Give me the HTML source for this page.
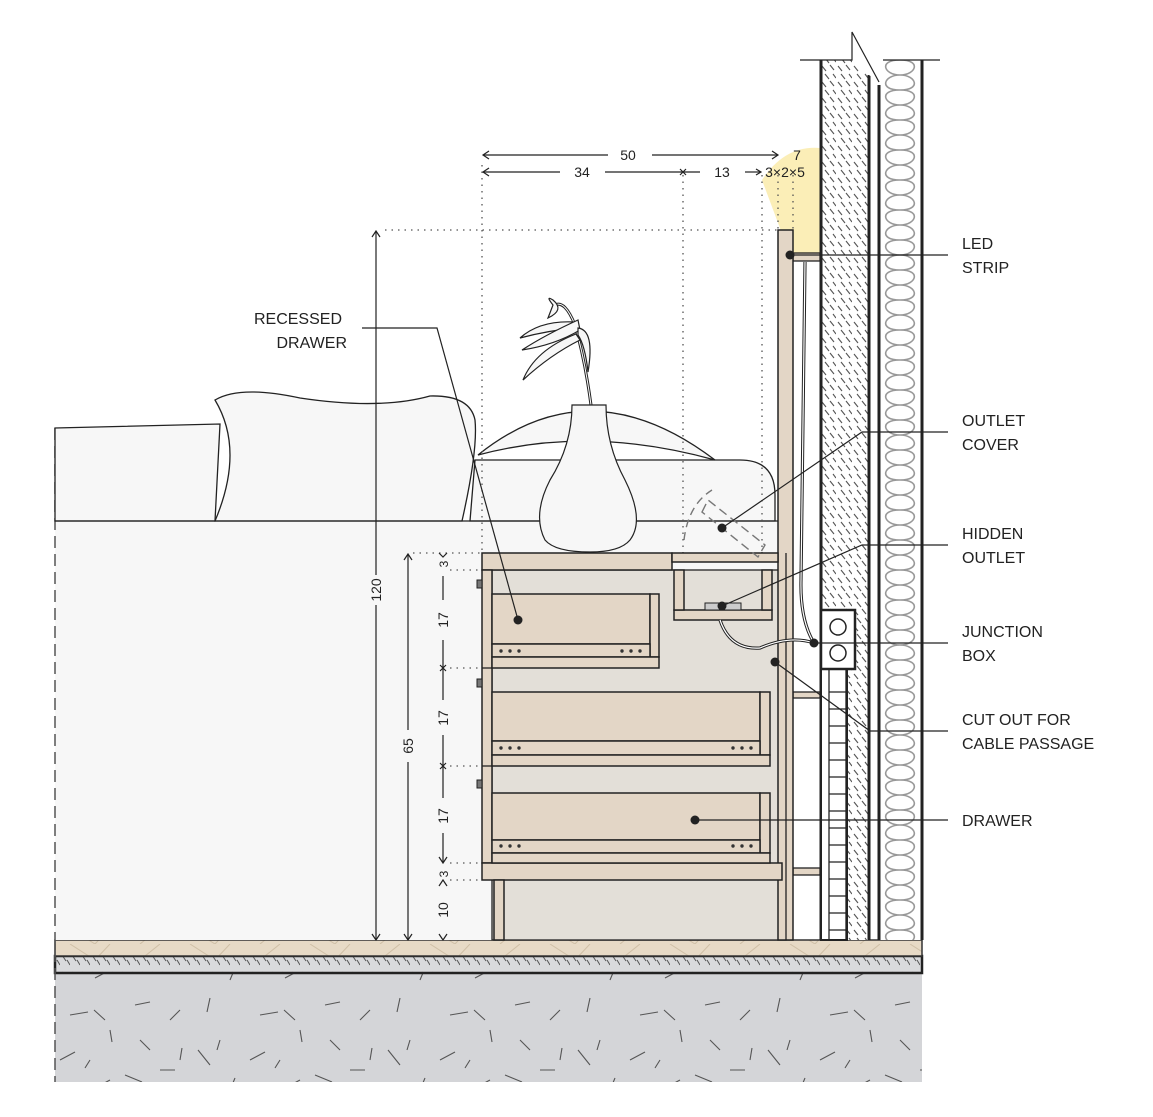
<!DOCTYPE html>
<html><head><meta charset="utf-8"><style>
html,body{margin:0;padding:0;background:#fff}
svg{display:block}
text{font-family:"Liberation Sans",sans-serif;fill:#222}
</style></head><body>
<svg width="1153" height="1117" viewBox="0 0 1153 1117" xmlns="http://www.w3.org/2000/svg">
<defs>
<pattern id="hatch" x="820" y="0" width="16" height="16" patternUnits="userSpaceOnUse">
<rect width="16" height="16" fill="#fff"/>
<path d="M2 2 L6 7 M10 1 L14 6 M5 10 L9 15 M13 10 L16 14" stroke="#555" stroke-width="1.1"/>
</pattern>
<pattern id="hatch2" width="10" height="17" patternUnits="userSpaceOnUse">
<rect width="10" height="17" fill="#d9dadc"/>
<path d="M2 3 L6 9 M7 8 L10 13" stroke="#555" stroke-width="1"/>
</pattern>
<pattern id="ins" x="878" y="60" width="44" height="30" patternUnits="userSpaceOnUse">
<rect width="44" height="30" fill="#fff"/>
<path d="M22 0 C44 0 38 15 22 15 C6 15 0 30 22 30 M22 0 C0 0 6 15 22 15 C38 15 44 30 22 30" stroke="#999" stroke-width="1.6" fill="none"/>
</pattern>
<pattern id="speck" width="190" height="110" patternUnits="userSpaceOnUse">
<rect width="190" height="110" fill="#d4d5d8"/>
<g stroke="#555" stroke-width="1.1">
<path d="M20 8 L17 22 M70 25 L88 22 M105 30 L94 20 M110 40 L112 52 M150 60 L140 50 M40 100 L45 88 M60 70 L75 62 M125 85 L142 92 M170 30 L180 20 M160 80 L175 80 M8 60 L20 75 M95 98 L110 90 M135 15 L150 12 M30 50 L27 60 M85 78 L90 70 M180 70 L182 58"/>
</g>
</pattern>
<pattern id="wood" width="120" height="16" patternUnits="userSpaceOnUse">
<rect width="120" height="16" fill="#e7dac6"/>
<path d="M20 16 L40 0 M70 0 L95 16 M95 16 L110 0" stroke="#cfbfa6" stroke-width="1"/>
</pattern>
</defs>

<rect x="55" y="973" width="867" height="109" fill="url(#speck)"/>
<rect x="55" y="956" width="867" height="17" fill="url(#hatch2)" stroke="#222" stroke-width="2.5"/>
<rect x="55" y="940" width="867" height="16" fill="url(#wood)" stroke="#333" stroke-width="1.5"/>

<rect x="55" y="521" width="725" height="419" fill="#f7f7f7"/>
<path d="M55 428 L55 1082" stroke="#555" stroke-width="1.5" stroke-dasharray="12 6"/>
<path d="M55 428 L220 424 L215 521 L55 521Z" fill="#f7f7f7" stroke="#222" stroke-width="1.3"/>
<path d="M475 460 L740 460 Q775 460 775 495 L775 521 L470 521Z" fill="#f7f7f7" stroke="#222" stroke-width="1.3"/>
<path d="M478 455 Q590 365 715 460 Q590 425 478 455Z" fill="#f7f7f7" stroke="#222" stroke-width="1.3"/>
<path d="M215 521 Q245 450 215 400 Q240 385 300 398 Q380 410 430 396 Q470 395 475 420 Q478 450 462 521Z" fill="#f7f7f7" stroke="#222" stroke-width="1.3"/>
<line x1="55" y1="521" x2="780" y2="521" stroke="#222" stroke-width="1.3"/>

<path d="M790 255 L762 180 Q785 145 820 148 L820 258Z" fill="#fbeeb7"/>

<g stroke="#555" stroke-width="1.3" stroke-dasharray="1.5 5">
<line x1="482" y1="165" x2="482" y2="553"/>
<line x1="683" y1="175" x2="683" y2="553"/>
<line x1="762" y1="175" x2="762" y2="560"/>
<line x1="778" y1="175" x2="778" y2="230"/>
<line x1="793" y1="175" x2="793" y2="230"/>
<line x1="385" y1="230" x2="778" y2="230"/>
<line x1="413" y1="553" x2="482" y2="553"/>
<line x1="450" y1="570" x2="482" y2="570"/>
<line x1="450" y1="668" x2="482" y2="668"/>
<line x1="450" y1="766" x2="482" y2="766"/>
<line x1="450" y1="863" x2="482" y2="863"/>
<line x1="450" y1="880" x2="482" y2="880"/>
</g>

<rect x="820" y="60" width="50" height="880" fill="url(#hatch)"/>
<rect x="878" y="60" width="44" height="880" fill="url(#ins)"/>
<g stroke="#222" stroke-width="3" fill="none">
<line x1="821" y1="60" x2="821" y2="940"/>
<line x1="869" y1="75" x2="869" y2="940"/>
<line x1="879" y1="85" x2="879" y2="940"/>
<line x1="922" y1="60" x2="922" y2="940"/>
</g>
<path d="M852 60 L852 32 L879 82 L869 75Z" fill="#fff" stroke="none"/>
<path d="M800 60 L852 60 L852 32 L879 82 M883 60 L940 60" stroke="#222" stroke-width="1.2" fill="none"/>

<rect x="821" y="669" width="26" height="271" fill="#fff" stroke="#222" stroke-width="2"/>
<g stroke="#222" stroke-width="1.3">
<line x1="829" y1="669" x2="829" y2="940"/><line x1="846" y1="669" x2="846" y2="940"/>
<path d="M829 692H846M829 709H846M829 726H846M829 743H846M829 760H846M829 777H846M829 794H846M829 811H846M829 828H846M829 845H846M829 862H846M829 879H846M829 896H846M829 913H846M829 930H846"/>
</g>
<rect x="821" y="610" width="34" height="59" fill="#fff" stroke="#222" stroke-width="2.5"/>
<circle cx="838" cy="627" r="8" fill="none" stroke="#222" stroke-width="1.5"/>
<circle cx="838" cy="653" r="8" fill="none" stroke="#222" stroke-width="1.5"/>

<g fill="#e3d6c6" stroke="#222" stroke-width="1.3">
<rect x="793" y="253" width="27" height="8"/>
<rect x="793" y="692" width="27" height="6"/>
<rect x="793" y="868" width="27" height="7"/>
</g>

<rect x="492" y="570" width="294" height="370" fill="#e3dfd8" stroke="#222" stroke-width="1.3"/>
<g fill="#e3d6c6" stroke="#222" stroke-width="1.5">
<rect x="778" y="230" width="15" height="710"/>
<rect x="482" y="553" width="190" height="17"/>
<rect x="672" y="553" width="106" height="9"/>
<rect x="482" y="570" width="10" height="293"/>
<rect x="482" y="863" width="300" height="17"/>
<rect x="494" y="880" width="10" height="60"/>
<rect x="674" y="610" width="98" height="10"/>
<rect x="674" y="570" width="10" height="40"/>
<rect x="762" y="570" width="10" height="40"/>
<rect x="492" y="594" width="158" height="50"/>
<rect x="650" y="594" width="9" height="63"/>
<rect x="492" y="644" width="158" height="13"/>
<rect x="492" y="657" width="167" height="11"/>
<rect x="492" y="692" width="268" height="49"/>
<rect x="760" y="692" width="10" height="63"/>
<rect x="492" y="741" width="268" height="14"/>
<rect x="492" y="755" width="278" height="11"/>
<rect x="492" y="793" width="268" height="47"/>
<rect x="760" y="793" width="10" height="60"/>
<rect x="492" y="840" width="268" height="13"/>
<rect x="492" y="853" width="278" height="10"/>
</g>
<line x1="786" y1="553" x2="786" y2="940" stroke="#222" stroke-width="1.3"/>
<line x1="482" y1="668" x2="492" y2="668" stroke="#222" stroke-width="1.3"/>
<line x1="482" y1="766" x2="492" y2="766" stroke="#222" stroke-width="1.3"/>
<g fill="#777" stroke="#222" stroke-width="1"><rect x="477" y="580" width="5" height="8"/><rect x="477" y="679" width="5" height="8"/><rect x="477" y="780" width="5" height="8"/></g>
<g fill="#333">
<circle cx="501" cy="651" r="1.7"/><circle cx="510" cy="651" r="1.7"/><circle cx="519" cy="651" r="1.7"/>
<circle cx="622" cy="651" r="1.7"/><circle cx="631" cy="651" r="1.7"/><circle cx="640" cy="651" r="1.7"/>
<circle cx="501" cy="748" r="1.7"/><circle cx="510" cy="748" r="1.7"/><circle cx="519" cy="748" r="1.7"/>
<circle cx="733" cy="748" r="1.7"/><circle cx="742" cy="748" r="1.7"/><circle cx="751" cy="748" r="1.7"/>
<circle cx="501" cy="846" r="1.7"/><circle cx="510" cy="846" r="1.7"/><circle cx="519" cy="846" r="1.7"/>
<circle cx="733" cy="846" r="1.7"/><circle cx="742" cy="846" r="1.7"/><circle cx="751" cy="846" r="1.7"/>
</g>
<rect x="705" y="603" width="36" height="7" fill="#ccc" stroke="#222" stroke-width="1"/>

<path d="M684 540 Q688 505 712 490" stroke="#777" stroke-width="1.4" fill="none" stroke-dasharray="8 5"/>
<path d="M702 512 L708 500 L765 545 L758 557Z" fill="none" stroke="#777" stroke-width="1.4" stroke-dasharray="9 5"/>

<g fill="none" stroke="#222" stroke-width="3.2"><path d="M720 620 Q730 650 760 648 Q790 635 814 643"/><path d="M814 643 Q800 620 801 580 L805 262"/></g>
<g fill="none" stroke="#fff" stroke-width="1.2"><path d="M720 620 Q730 650 760 648 Q790 635 814 643"/><path d="M814 643 Q800 620 801 580 L805 262"/></g>

<path d="M591 405 Q585 360 575 325 Q565 300 555 305" stroke="#222" stroke-width="3" fill="none"/>
<path d="M591 405 Q585 360 575 325 Q565 300 555 305" stroke="#fff" stroke-width="1" fill="none"/>
<g fill="#f7f7f7" stroke="#222" stroke-width="1.2">
<path d="M553 305 Q545 295 553 300 Q565 310 548 318 Z"/>
<path d="M575 322 Q540 320 520 338 Q550 330 578 328Z"/>
<path d="M578 320 Q545 335 522 350 Q555 345 580 330Z"/>
<path d="M576 334 Q535 350 523 380 Q550 355 580 340Z"/>
<path d="M578 328 Q595 330 588 372 Q585 345 578 335Z"/>
<path d="M572 405 L606 405 Q606 445 625 480 Q645 520 630 540 Q620 552 590 552 Q555 552 545 540 Q532 515 550 480 Q572 445 572 405Z"/>
</g>

<g stroke="#222" stroke-width="1.2" fill="none">
<line x1="483" y1="155" x2="608" y2="155"/><line x1="652" y1="155" x2="778" y2="155"/>
<path d="M489 151 L483 155 L489 159 M772 151 L778 155 L772 159"/>
<line x1="483" y1="172" x2="560" y2="172"/><line x1="605" y1="172" x2="700" y2="172"/>
<path d="M489 168 L483 172 L489 176 M680 169 L686 175 M686 169 L680 175"/>
<line x1="745" y1="172" x2="760" y2="172"/><path d="M756 169 L761 172 L756 175"/>
<line x1="376" y1="231" x2="376" y2="575"/><line x1="376" y1="605" x2="376" y2="940"/>
<path d="M372 237 L376 231 L380 237 M372 934 L376 940 L380 934"/>
<line x1="408" y1="554" x2="408" y2="730"/><line x1="408" y1="762" x2="408" y2="940"/>
<path d="M404 560 L408 554 L412 560 M404 934 L408 940 L412 934"/>
<path d="M443 576 L443 600 M443 640 L443 700 M443 735 L443 798 M443 833 L443 863 M440 665 L446 671 M446 665 L440 671 M440 763 L446 769 M446 763 L440 769 M439 857 L443 863 L447 857 M439 886 L443 880 L447 886 M439 934 L443 940 L447 934 M439 553 L443 557 L447 553"/>
</g>
<g font-size="14" fill="#333">
<text x="628" y="160" text-anchor="middle">50</text>
<text x="797" y="160" text-anchor="middle">7</text>
<text x="582" y="177" text-anchor="middle">34</text>
<text x="722" y="177" text-anchor="middle">13</text>
<text x="785" y="177" text-anchor="middle">3×2×5</text>
<text transform="translate(381,590) rotate(-90)" text-anchor="middle">120</text>
<text transform="translate(413,746) rotate(-90)" text-anchor="middle">65</text>
<text transform="translate(448,564) rotate(-90)" text-anchor="middle" font-size="12">3</text>
<text transform="translate(448,620) rotate(-90)" text-anchor="middle">17</text>
<text transform="translate(448,718) rotate(-90)" text-anchor="middle">17</text>
<text transform="translate(448,816) rotate(-90)" text-anchor="middle">17</text>
<text transform="translate(448,874) rotate(-90)" text-anchor="middle" font-size="12">3</text>
<text transform="translate(448,910) rotate(-90)" text-anchor="middle">10</text>
</g>

<g stroke="#222" stroke-width="1.2" fill="none">
<path d="M790 255 L948 255"/>
<path d="M722 528 L862 432 L948 432"/>
<path d="M722 606 L862 545 L948 545"/>
<path d="M814 643 L948 643"/>
<path d="M775 662 L870 731 L948 731"/>
<path d="M695 820 L948 820"/>
<path d="M362 328 L437 328 L518 620"/>
</g>
<g fill="#222">
<circle cx="790" cy="255" r="4.5"/><circle cx="722" cy="528" r="4.5"/><circle cx="722" cy="606" r="4.5"/>
<circle cx="814" cy="643" r="4.5"/><circle cx="775" cy="662" r="4.5"/><circle cx="695" cy="820" r="4.5"/><circle cx="518" cy="620" r="4.5"/>
</g>
<g font-size="16">
<text x="962" y="249">LED</text><text x="962" y="273">STRIP</text>
<text x="962" y="426">OUTLET</text><text x="962" y="450">COVER</text>
<text x="962" y="539">HIDDEN</text><text x="962" y="563">OUTLET</text>
<text x="962" y="637">JUNCTION</text><text x="962" y="661">BOX</text>
<text x="962" y="725">CUT OUT FOR</text><text x="962" y="749">CABLE PASSAGE</text>
<text x="962" y="826">DRAWER</text>
<text x="342" y="324" text-anchor="end">RECESSED</text><text x="347" y="348" text-anchor="end">DRAWER</text>
</g>
</svg>
</body></html>
